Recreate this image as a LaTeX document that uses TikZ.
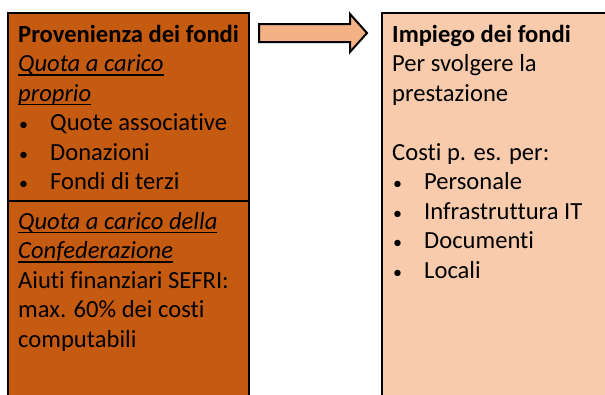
\documentclass[tikz,border=0pt]{standalone}
\usepackage{fontspec}
\setmainfont{Carlito}[Ligatures=NoCommon]
\usetikzlibrary{positioning}
\definecolor{fondiscuro}{HTML}{C55A11}
\definecolor{fondichiaro}{HTML}{F8CBAD}
\definecolor{frecciachiara}{HTML}{F4B183}
\newcommand{\punto}{\makebox[32pt][l]{\hspace{1pt}{\fontsize{18}{18}\selectfont\textbullet}}}
\newcommand{\sottolinea}[1]{\setbox0\hbox{#1}\rlap{\rule[-4pt]{\wd0}{1.3pt}}\box0}

\begin{document}
\begin{tikzpicture}[x=1pt,y=-1pt,
    testo/.style={anchor=north west,inner sep=0pt,align=left,font=\fontsize{24.6}{29.5}\selectfont},
    bordo/.style={draw=black,line width=2pt}]
  \useasboundingbox (0,0) rectangle (605,394);
  % Boxes
  \filldraw[bordo,fill=fondiscuro] (8,13) rectangle (249,404);
  \draw[bordo] (8,201) -- (249,201);
  \filldraw[bordo,fill=fondichiaro] (382,13) rectangle (614,404);
  % Arrow between the boxes
  \filldraw[bordo,fill=frecciachiara] (259,24) -- (350,24) -- (350,14) -- (367,33)
    -- (350,52) -- (350,42) -- (259,42) -- cycle;
  % Left box, own share
  \node[testo] (proprio) at (18,21.4) {\strut\textbf{Provenienza dei fondi}\\
    \sottolinea{\textit{Quota a carico}}\\
    \sottolinea{\textit{proprio}}\\
    \punto Quote associative\\
    \punto Donazioni\\
    \punto Fondi di terzi};
  % Left box, Confederation share
  \node[testo] (confederazione) at (18,208.4) {\strut\sottolinea{\textit{Quota a carico della}}\\
    \sottolinea{\textit{Confederazione}}\\
    Aiuti finanziari SEFRI:\\
    max. 60\% dei costi\\
    computabili};
  % Right box
  \node[testo] (impiego) at (392,21.4) {\strut\textbf{Impiego dei fondi}\\
    Per svolgere la\\
    prestazione\\
    \mbox{}\\
    Costi p. es. per:\\
    \punto Personale\\
    \punto Infrastruttura IT\\
    \punto Documenti\\
    \punto Locali};
\end{tikzpicture}
\end{document}
